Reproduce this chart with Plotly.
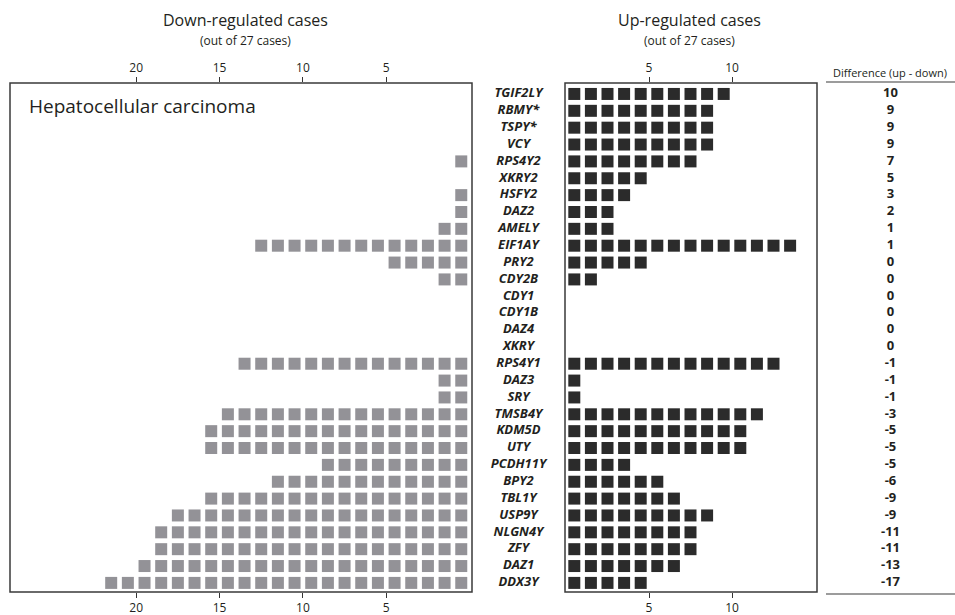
import plotly.graph_objects as go

genes = ["TGIF2LY", "RBMY*", "TSPY*", "VCY", "RPS4Y2", "XKRY2", "HSFY2", "DAZ2", "AMELY", "EIF1AY",
         "PRY2", "CDY2B", "CDY1", "CDY1B", "DAZ4", "XKRY", "RPS4Y1", "DAZ3", "SRY", "TMSB4Y",
         "KDM5D", "UTY", "PCDH11Y", "BPY2", "TBL1Y", "USP9Y", "NLGN4Y", "ZFY", "DAZ1", "DDX3Y"]
down_counts = [0, 0, 0, 0, 1, 0, 1, 1, 2, 13,
               5, 2, 0, 0, 0, 0, 14, 2, 2, 15,
               16, 16, 9, 12, 16, 18, 19, 19, 20, 22]
up_counts = [10, 9, 9, 9, 8, 5, 4, 3, 3, 14,
             5, 2, 0, 0, 0, 0, 13, 1, 1, 12,
             11, 11, 4, 6, 7, 9, 8, 8, 7, 5]
difference = [u - d for u, d in zip(up_counts, down_counts)]
left_ticks = [5, 10, 15, 20]
right_ticks = [5, 10]

W, H = 955, 615
def px(x): return x / W
def py(y): return 1 - y / H

GRAY = "#939297"
DARK = "#2b2b2b"
TXT = "#231f20"
FONT = "Open Sans"

def expand(counts):
    xs, ys = [], []
    for g, c in zip(genes, counts):
        for k in range(c):
            xs.append(k + 0.5)
            ys.append(g)
    return xs, ys

dx, dy = expand(down_counts)
ux, uy = expand(up_counts)

fig = go.Figure()
fig.add_trace(go.Scatter(x=dx, y=dy, mode="markers", xaxis="x", yaxis="y",
                         marker=dict(symbol="square", size=12, color=GRAY, line=dict(width=0)),
                         showlegend=False, hoverinfo="skip"))
fig.add_trace(go.Scatter(x=ux, y=uy, mode="markers", xaxis="x2", yaxis="y",
                         marker=dict(symbol="square", size=12, color=DARK, line=dict(width=0)),
                         showlegend=False, hoverinfo="skip"))
# empty traces to activate top overlay axes
fig.add_trace(go.Scatter(x=[], y=[], xaxis="x3", yaxis="y", showlegend=False))
fig.add_trace(go.Scatter(x=[], y=[], xaxis="x4", yaxis="y", showlegend=False))
# gene labels
fig.add_trace(go.Scatter(x=[0.5] * len(genes), y=genes, mode="text", xaxis="x5", yaxis="y",
                         text=["<b><i>%s</i></b>" % g for g in genes],
                         textfont=dict(family=FONT, size=13, color=TXT),
                         showlegend=False, hoverinfo="skip"))
# difference values
fig.add_trace(go.Scatter(x=[0.5] * len(genes), y=genes, mode="text", xaxis="x6", yaxis="y",
                         text=["<b>%d</b>" % d for d in difference],
                         textfont=dict(family=FONT, size=13, color=TXT),
                         showlegend=False, hoverinfo="skip"))

ydom = [py(592), py(83)]
left_dom = [px(10), px(472)]
right_dom = [px(565), px(817)]
left_range = [27.57, -0.144]
right_range = [-0.06, 15.12]

axis_common = dict(showgrid=False, zeroline=False, showline=False, ticks="outside",
                   ticklen=5, tickwidth=1, tickcolor="#333333",
                   tickfont=dict(family=FONT, size=12, color=TXT), fixedrange=True)

fig.update_layout(
    width=W, height=H, margin=dict(l=0, r=0, t=0, b=0),
    paper_bgcolor="white", plot_bgcolor="white",
    font=dict(family=FONT, color=TXT),
    xaxis=dict(domain=left_dom, range=left_range, anchor="y", side="bottom",
               tickmode="array", tickvals=left_ticks, ticktext=[str(t) for t in left_ticks], **axis_common),
    xaxis3=dict(overlaying="x", matches="x", anchor="y", side="top",
                tickmode="array", tickvals=left_ticks, ticktext=[str(t) for t in left_ticks], **axis_common),
    xaxis2=dict(domain=right_dom, range=right_range, anchor="y", side="bottom",
                tickmode="array", tickvals=right_ticks, ticktext=[str(t) for t in right_ticks], **axis_common),
    xaxis4=dict(overlaying="x2", matches="x2", anchor="y", side="top",
                tickmode="array", tickvals=right_ticks, ticktext=[str(t) for t in right_ticks], **axis_common),
    xaxis5=dict(domain=[px(472), px(565)], range=[0, 1], anchor="y", visible=False, fixedrange=True),
    xaxis6=dict(domain=[px(826), 1.0], range=[0, 1], anchor="y", visible=False, fixedrange=True),
    yaxis=dict(domain=ydom, type="category", categoryorder="array", categoryarray=genes,
               range=[29.54, -0.65], visible=False, fixedrange=True, anchor="x"),
)

shapes = [
    dict(type="rect", xref="x domain", yref="y domain", x0=0, x1=1, y0=0, y1=1,
         line=dict(color="#3a3a3a", width=1.5)),
    dict(type="rect", xref="x2 domain", yref="y domain", x0=0, x1=1, y0=0, y1=1,
         line=dict(color="#3a3a3a", width=1.5)),
    dict(type="line", xref="paper", yref="paper", x0=px(826), x1=1.0, y0=py(82), y1=py(82),
         line=dict(color="#3a3a3a", width=1.2)),
    dict(type="line", xref="paper", yref="paper", x0=px(826), x1=1.0, y0=py(594), y1=py(594),
         line=dict(color="#3a3a3a", width=1.2)),
]
fig.update_layout(shapes=shapes)

annotations = [
    dict(text="Down-regulated cases", x=px(245), y=py(20), font=dict(size=16)),
    dict(text="(out of 27 cases)", x=px(245), y=py(40), font=dict(size=12)),
    dict(text="Up-regulated cases", x=px(689), y=py(20), font=dict(size=16)),
    dict(text="(out of 27 cases)", x=px(689), y=py(40), font=dict(size=12)),
    dict(text="Difference (up - down)", x=px(890), y=py(72), font=dict(size=11)),
    dict(text="Hepatocellular carcinoma", x=px(27), y=py(106), xanchor="left", font=dict(size=19)),
]
for a in annotations:
    a.setdefault("xanchor", "center")
    a.update(xref="paper", yref="paper", yanchor="middle", showarrow=False)
    a["font"].update(family=FONT, color=TXT)
fig.update_layout(annotations=annotations)

fig.write_html("out.html", config={"displayModeBar": False, "staticPlot": True},
               post_script="document.body.style.margin='0';document.body.style.overflow='hidden';")
